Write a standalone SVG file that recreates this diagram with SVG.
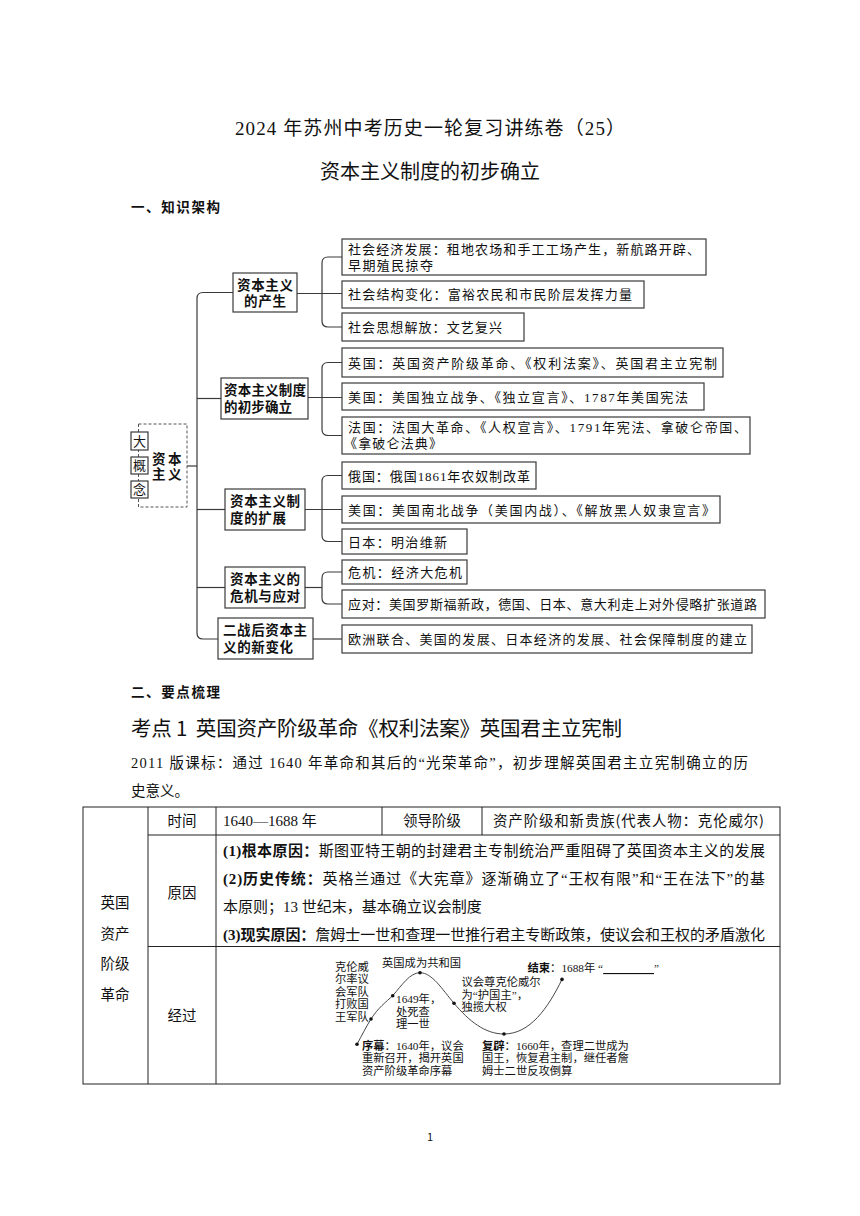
<svg xmlns="http://www.w3.org/2000/svg" width="860" height="1216" viewBox="0 0 860 1216">
<style>
.bg{fill:#fff}
.box{fill:#fff;stroke:#3a3a3a;stroke-width:1.2}
.dash{fill:none;stroke:#555;stroke-width:1;stroke-dasharray:3 2}
.conn{fill:none;stroke:#3a3a3a;stroke-width:1.2}
.tl{fill:none;stroke:#222;stroke-width:1}
.crv{fill:none;stroke:#333;stroke-width:0.9}
.dot{fill:#111}
.se{font-family:"Liberation Serif","Noto Sans CJK SC",serif;fill:#111}
.sa{font-family:"Noto Sans CJK SC","Liberation Sans",sans-serif;fill:#111}
.r13{font-size:13px}
.mb{font-family:"Noto Sans CJK SC","Liberation Sans",sans-serif;font-weight:bold;font-size:13.5px;fill:#111}
.c11{font-family:"Liberation Serif","Noto Sans CJK SC",serif;font-size:11.3px;fill:#111}
.b{font-weight:bold}
</style>
<rect class="bg" x="0" y="0" width="860" height="1216"/>

<!-- headings -->
<text class="se" x="430" y="135" font-size="19" text-anchor="middle" textLength="390">2024 年苏州中考历史一轮复习讲练卷（25）</text>
<text class="se" x="430" y="179" font-size="20" text-anchor="middle" textLength="220">资本主义制度的初步确立</text>
<text class="sa b" x="131" y="212" font-size="13.5" textLength="89">一、知识架构</text>

<!-- connectors -->
<g id="connectors">
<path class="conn" d="M233 292.5 H203 Q197 292.5 197 298.5 V633 Q197 639 203 639 H218"/>
<path class="conn" d="M187 466 H197"/>
<path class="conn" d="M197 398.5 H221"/>
<path class="conn" d="M197 509.5 H225"/>
<path class="conn" d="M197 587.5 H225"/>
<path class="conn" d="M342 257 H328 Q322 257 322 263 V321 Q322 327 328 327 H342"/>
<path class="conn" d="M297 293.5 H342"/>
<path class="conn" d="M342 362.5 H328 Q322 362.5 322 368.5 V429.5 Q322 435.5 328 435.5 H342"/>
<path class="conn" d="M308 397.5 H342"/>
<path class="conn" d="M342 475.5 H328 Q322 475.5 322 481.5 V535.5 Q322 541.5 328 541.5 H342"/>
<path class="conn" d="M305 509.5 H342"/>
<path class="conn" d="M342 572 H328 Q322 572 322 578 V598 Q322 604 328 604 H342"/>
<path class="conn" d="M305 587.5 H322"/>
<path class="conn" d="M313 639 H342"/>
</g>

<!-- root -->
<g id="root">
<rect class="dash" x="138.5" y="424" width="48.5" height="83"/>
<rect class="box" x="131" y="432" width="17" height="18"/>
<rect class="box" x="131" y="457" width="17" height="17"/>
<rect class="box" x="131" y="481" width="17" height="17"/>
<text class="se r13" x="139.5" y="446" text-anchor="middle">大</text>
<text class="se r13" x="139.5" y="470" text-anchor="middle">概</text>
<text class="se r13" x="139.5" y="494" text-anchor="middle">念</text>
<text class="mb" x="152" y="463.5" font-size="12.5" letter-spacing="2.5">资本</text>
<text class="mb" x="152" y="478.5" font-size="12.5" letter-spacing="2.5">主义</text>
</g>

<!-- middle nodes -->
<g id="m1"><rect class="box" x="233" y="273" width="64" height="39"/>
<text class="mb" x="237" y="289.5" textLength="56">资本主义</text>
<text class="mb" x="244" y="306" textLength="42">的产生</text></g>
<g id="m2"><rect class="box" x="221" y="378" width="87" height="41"/>
<text class="mb" x="224" y="394.5" textLength="82">资本主义制度</text>
<text class="mb" x="224" y="412" textLength="68">的初步确立</text></g>
<g id="m3"><rect class="box" x="225" y="489" width="80" height="41"/>
<text class="mb" x="230" y="505.5" textLength="70">资本主义制</text>
<text class="mb" x="230" y="523" textLength="56">度的扩展</text></g>
<g id="m4"><rect class="box" x="225" y="567" width="80" height="41"/>
<text class="mb" x="230" y="583.5" textLength="70">资本主义的</text>
<text class="mb" x="230" y="601" textLength="70">危机与应对</text></g>
<g id="m5"><rect class="box" x="218" y="618" width="95" height="41"/>
<text class="mb" x="223" y="634.5" textLength="84">二战后资本主</text>
<text class="mb" x="223" y="652" textLength="70">义的新变化</text></g>

<!-- leaf nodes -->
<g id="a1"><rect class="box" x="342" y="239" width="364" height="36"/>
<text class="se r13" x="348" y="254" textLength="352">社会经济发展：租地农场和手工工场产生，新航路开辟、</text>
<text class="se r13" x="348" y="269.5" textLength="85">早期殖民掠夺</text></g>
<g id="a2"><rect class="box" x="342" y="281" width="302" height="27"/>
<text class="se r13" x="348" y="299" textLength="284">社会结构变化：富裕农民和市民阶层发挥力量</text></g>
<g id="a3"><rect class="box" x="342" y="313" width="182" height="28"/>
<text class="se r13" x="348" y="332" textLength="154">社会思想解放：文艺复兴</text></g>
<g id="b1"><rect class="box" x="342" y="348" width="381" height="29"/>
<text class="se r13" x="348" y="367.5" textLength="369">英国：英国资产阶级革命、《权利法案》、英国君主立宪制</text></g>
<g id="b2"><rect class="box" x="342" y="383" width="362" height="27"/>
<text class="se r13" x="348" y="401.5" textLength="340">美国：美国独立战争、《独立宣言》、1787年美国宪法</text></g>
<g id="b3"><rect class="box" x="342" y="417" width="408" height="37"/>
<text class="se r13" x="348" y="431.5" textLength="399">法国：法国大革命、《人权宣言》、1791年宪法、拿破仑帝国、</text>
<text class="se r13" x="344" y="448" textLength="98">《拿破仑法典》</text></g>
<g id="c1"><rect class="box" x="342" y="462" width="194" height="27"/>
<text class="se r13" x="348" y="480.5" textLength="182">俄国：俄国1861年农奴制改革</text></g>
<g id="c2"><rect class="box" x="342" y="496" width="378" height="27"/>
<text class="se r13" x="348" y="514.5" textLength="367">美国：美国南北战争（美国内战）、《解放黑人奴隶宣言》</text></g>
<g id="c3"><rect class="box" x="342" y="529" width="125" height="25"/>
<text class="se r13" x="348" y="546.5" textLength="99">日本：明治维新</text></g>
<g id="d1"><rect class="box" x="342" y="560" width="125" height="24"/>
<text class="se r13" x="348" y="577" textLength="114">危机：经济大危机</text></g>
<g id="d2"><rect class="box" x="342" y="590" width="423" height="28"/>
<text class="se r13" x="348" y="609" textLength="409">应对：美国罗斯福新政，德国、日本、意大利走上对外侵略扩张道路</text></g>
<g id="e1"><rect class="box" x="342" y="625" width="410" height="28"/>
<text class="se r13" x="348" y="644" textLength="399">欧洲联合、美国的发展、日本经济的发展、社会保障制度的建立</text></g>

<!-- section 2 -->
<text class="sa b" x="131" y="697" font-size="13.5" textLength="89">二、要点梳理</text>
<text class="sa" x="131" y="736" font-size="20.5" textLength="491">考点&#160;1&#160;&#160;英国资产阶级革命《权利法案》英国君主立宪制</text>
<text class="se" x="131" y="768" font-size="14.5" textLength="617">2011 版课标：通过 1640 年革命和其后的“光荣革命”，初步理解英国君主立宪制确立的历</text>
<text class="se" x="131" y="796" font-size="14.5">史意义。</text>

<!-- table -->
<g id="table">
<rect class="tl" x="83" y="807" width="697" height="277"/>
<path class="tl" d="M148 807 V1084 M216 807 V1084 M382 807 V835 M482 807 V835 M148 835 H780 M148 946.5 H780"/>
<text class="sa" x="182" y="826" font-size="14.5" text-anchor="middle">时间</text>
<text class="se" x="223" y="826" font-size="15">1640—1688 年</text>
<text class="sa" x="432" y="826" font-size="14.5" text-anchor="middle">领导阶级</text>
<text class="sa" x="493" y="826" font-size="14.5" textLength="271">资产阶级和新贵族(代表人物：克伦威尔)</text>
<text class="sa" x="182" y="898" font-size="14.5" text-anchor="middle">原因</text>
<text class="sa" x="182" y="1021" font-size="14.5" text-anchor="middle">经过</text>
<text class="sa" x="115" y="908" font-size="14.5" text-anchor="middle">英国</text>
<text class="sa" x="115" y="938.5" font-size="14.5" text-anchor="middle">资产</text>
<text class="sa" x="115" y="969" font-size="14.5" text-anchor="middle">阶级</text>
<text class="sa" x="115" y="999.5" font-size="14.5" text-anchor="middle">革命</text>
<text class="se" x="223" y="855.5" font-size="15" textLength="542"><tspan class="b">(1)根本原因：</tspan>斯图亚特王朝的封建君主专制统治严重阻碍了英国资本主义的发展</text>
<text class="se" x="223" y="883.5" font-size="15" textLength="542"><tspan class="b">(2)历史传统：</tspan>英格兰通过《大宪章》逐渐确立了“王权有限”和“王在法下”的基</text>
<text class="se" x="223" y="911.5" font-size="15">本原则；13 世纪末，基本确立议会制度</text>
<text class="se" x="223" y="939.5" font-size="15" textLength="542"><tspan class="b">(3)现实原因：</tspan>詹姆士一世和查理一世推行君主专断政策，使议会和王权的矛盾激化</text>
</g>

<!-- curve diagram -->
<g id="curve">
<path class="crv" d="M357 1044.3 C362 1035 366 1027 371 1019 C378 1008 386 1002 392.7 995.7 C402 985 410 972.7 420 972.7 C432 972.7 442 989 454 1003.3 C469 1021 485 1034 504 1034 C530 1034 548 1008 562 979.4"/>
<circle class="dot" cx="357" cy="1044.3" r="1.8"/>
<circle class="dot" cx="371" cy="1019" r="1.8"/>
<circle class="dot" cx="392.7" cy="995.7" r="1.8"/>
<circle class="dot" cx="420" cy="972.7" r="1.8"/>
<circle class="dot" cx="454" cy="1003.3" r="1.8"/>
<circle class="dot" cx="504" cy="1034" r="1.8"/>
<circle class="dot" cx="562" cy="979.4" r="1.8"/>
<text class="c11" x="335" y="970.5">克伦威</text>
<text class="c11" x="335" y="983">尔率议</text>
<text class="c11" x="335" y="995.5">会军队</text>
<text class="c11" x="335" y="1008">打败国</text>
<text class="c11" x="335" y="1020.5">王军队</text>
<text class="c11" x="382" y="967">英国成为共和国</text>
<text class="c11" x="396" y="1003">1649年，</text>
<text class="c11" x="396" y="1015.5">处死查</text>
<text class="c11" x="396" y="1028">理一世</text>
<text class="c11" x="461.5" y="986">议会尊克伦威尔</text>
<text class="c11" x="461.5" y="998.5">为“护国主”，</text>
<text class="c11" x="461.5" y="1011">独揽大权</text>
<text class="c11" x="527.5" y="972"><tspan class="b">结束</tspan>：1688年 “<tspan text-decoration="underline">&#160;&#160;&#160;&#160;&#160;&#160;&#160;&#160;&#160;&#160;&#160;&#160;&#160;&#160;&#160;&#160;&#160;&#160;</tspan>”</text>
<text class="c11" x="362" y="1049.5"><tspan class="b">序幕</tspan>：1640年，议会</text>
<text class="c11" x="362" y="1062">重新召开，揭开英国</text>
<text class="c11" x="362" y="1074.5">资产阶级革命序幕</text>
<text class="c11" x="482" y="1049.5"><tspan class="b">复辟</tspan>：1660年，查理二世成为</text>
<text class="c11" x="482" y="1062">国王，恢复君主制，继任者詹</text>
<text class="c11" x="482" y="1074.5">姆士二世反攻倒算</text>
</g>

<text class="sa" x="430" y="1141" font-size="11" text-anchor="middle">1</text>
</svg>
